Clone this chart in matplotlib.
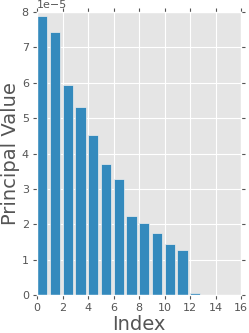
import numpy as np
import matplotlib
matplotlib.use('Agg')
import matplotlib.pyplot as plt

plt.style.use('ggplot')

# principal values (units of 1e-5)
index = np.arange(13)
values = np.array([7.90, 7.43, 5.95, 5.31, 4.51, 3.70, 3.27,
                   2.23, 2.05, 1.75, 1.44, 1.26, 0.06]) * 1e-5

fig = plt.figure(figsize=(2.49, 3.33), dpi=100)
ax = fig.add_axes([0.149, 0.114, 0.82, 0.85])
ax.bar(index, values, width=0.8, align='edge', color='#348ABD',
       edgecolor='#EEEEEE', linewidth=0.5)
ax.set_xlim(0, 16)
ax.set_ylim(0, 8e-5)
ax.set_xticks(np.arange(0, 17, 2))
ax.tick_params(axis='both', which='major', labelsize=8, top=True, right=True,
               direction='out', colors='#555555', length=3, pad=3)
ax.yaxis.get_offset_text().set_fontsize(8)
ax.yaxis.get_offset_text().set_color('#555555')
ax.set_xlabel('Index', fontsize=14, color='#555555', labelpad=1)
ax.set_ylabel('Principal Value', fontsize=14, color='#555555', labelpad=1)
fig.savefig('out.png', dpi=100)
